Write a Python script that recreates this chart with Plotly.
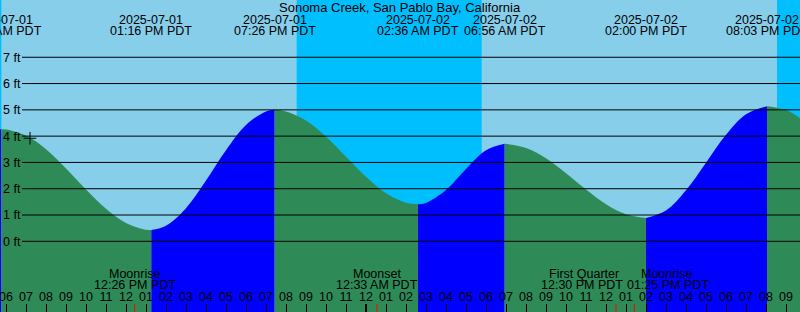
import plotly.graph_objects as go
import pandas as pd

station = "Sonoma Creek, San Pablo Bay, California"

# high / low tide extremes (PDT)
extreme_times = ["2025-07-01 05:46", "2025-07-01 13:16", "2025-07-01 19:26",
                 "2025-07-02 02:36", "2025-07-02 06:56", "2025-07-02 14:00",
                 "2025-07-02 20:03"]
extreme_ft = [4.26, 0.43, 5.00, 1.41, 3.71, 0.89, 5.14]

# hourly tide readings (ft), 2025-07-01 05:00 .. 2025-07-02 22:00
reading_times = pd.date_range("2025-07-01 05:00", "2025-07-02 22:00", freq="h")
reading_ft = [4.16, 4.25, 4.02, 3.50, 2.77, 1.97, 1.24, 0.70, 0.44, 0.59, 1.26, 2.31,
              3.46, 4.42, 4.94, 4.94, 4.59, 3.98, 3.22,
              2.46, 1.83, 1.47, 1.46, 1.95, 2.75, 3.46, 3.71, 3.55, 3.16, 2.59, 1.97,
              1.41, 1.03, 0.89, 1.17, 1.94, 2.99, 4.05, 4.83, 5.14, 4.99, 4.52]

# sun: night intervals
night_start = ["2025-07-01 05:42", "2025-07-01 20:32", "2025-07-02 20:33"]
night_end = ["2025-07-01 05:46", "2025-07-02 05:47", "2025-07-02 21:42"]

# moon events
moon_times = ["2025-07-01 12:26", "2025-07-02 00:33", "2025-07-02 12:30", "2025-07-02 13:25"]
moon_names = ["Moonrise", "Moonset", "First Quarter", "Moonrise"]

grid_ft = [0, 1, 2, 3, 4, 5, 6, 7]
midnights = ["2025-07-02 00:00"]
now_time = ["2025-07-01 07:12"]
now_ft = [3.92]

x_range = ["2025-07-01 05:42", "2025-07-02 21:42"]
y_range = [-2.689, 9.178]
FLOOR = -3.5

DAY = "#87CEEB"
NIGHT = "#00BFFF"
RISE = "#0000FF"
FALL = "#2E8B57"
FS = 12.5
FONT = dict(family="Liberation Sans, Arial, sans-serif", size=FS, color="#000000")
TFONT = dict(family="Liberation Sans, Arial, sans-serif", size=13, color="#000000")

# approximate Arial advance widths (per 1000 em) for label layout
_AW = {":": 278, " ": 278, "P": 667, "M": 833, "A": 667, "D": 722, "T": 611}


def text_width(s, size=FS):
    return sum(_AW.get(c, 556) for c in s) * size / 1000.0


ext_t = pd.to_datetime(extreme_times)
pts = [(t, v) for t, v in zip(reading_times, reading_ft)
       if min(abs((t - e).total_seconds()) for e in ext_t) > 600]
pts += list(zip(ext_t, extreme_ft))
pts.sort()

fig = go.Figure()
bounds = [pd.Timestamp("2025-06-30")] + list(ext_t) + [pd.Timestamp("2025-07-04")]
for i in range(len(bounds) - 1):
    seg = [(t, v) for t, v in pts if bounds[i] <= t <= bounds[i + 1]]
    if len(seg) < 2:
        continue
    xs = [t for t, _ in seg]
    ys = [v for _, v in seg]
    color = RISE if ys[-1] > ys[0] else FALL
    fig.add_trace(go.Scatter(x=[xs[0], xs[-1]], y=[FLOOR, FLOOR], mode="lines",
                             line=dict(width=0), hoverinfo="skip", showlegend=False))
    fig.add_trace(go.Scatter(x=xs, y=ys, mode="lines",
                             line=dict(width=0, shape="spline", color=color),
                             fill="tonexty", fillcolor=color,
                             hoverinfo="skip", showlegend=False))

fig.add_trace(go.Scatter(x=now_time, y=now_ft, mode="markers",
                         marker=dict(symbol="cross-thin", size=9,
                                     line=dict(width=1, color="#000000")),
                         hoverinfo="skip", showlegend=False))

shapes = []
for a, b in zip(night_start, night_end):
    shapes.append(dict(type="rect", xref="x", yref="paper", x0=a, x1=b, y0=0, y1=1,
                       fillcolor=NIGHT, line=dict(width=0), layer="below"))
for v in grid_ft:
    shapes.append(dict(type="line", xref="paper", yref="y", x0=0.0275, x1=1, y0=v, y1=v,
                       line=dict(color="#000000", width=1), layer="above"))
for m in midnights:
    shapes.append(dict(type="line", xref="x", yref="paper", x0=m, x1=m, y0=0, y1=8 / 312,
                       line=dict(color="#000000", width=2), layer="above"))
for m in moon_times:
    shapes.append(dict(type="line", xref="x", yref="paper", x0=m, x1=m, y0=0, y1=8 / 312,
                       line=dict(color="#FF0000", width=1), layer="above"))

ann = [dict(text=station, xref="paper", yref="paper", x=0.5, y=1 - 7.5 / 312,
            xanchor="center", yanchor="middle", showarrow=False, font=TFONT)]
for t in ext_t:
    ann.append(dict(text=t.strftime("%Y-%m-%d"), xref="x", yref="paper", x=t,
                    y=1 - 19.5 / 312, xanchor="center", yanchor="middle",
                    showarrow=False, font=FONT))
    ann.append(dict(text=t.strftime("%I:%M %p PDT"), xref="x", yref="paper", x=t,
                    y=1 - 31.3 / 312, xanchor="center", yanchor="middle",
                    showarrow=False, font=FONT))

# moon labels: labels of close events are pushed apart around their midpoint
mt = list(pd.to_datetime(moon_times))
CLOSE = pd.Timedelta(minutes=150)
for i, (t, n) in enumerate(zip(mt, moon_names)):
    line2 = t.strftime("%I:%M %p PDT")
    w2 = text_width(line2)
    x, anchor, shift = t, "center", 0
    if i + 1 < len(mt) and mt[i + 1] - t < CLOSE:
        x, anchor, shift = t + (mt[i + 1] - t) / 2, "right", -w2 / 2
    elif i > 0 and t - mt[i - 1] < CLOSE:
        x, anchor, shift = mt[i - 1] + (t - mt[i - 1]) / 2, "left", w2 / 2
    ann.append(dict(text=n, xref="x", yref="paper", x=x, y=1 - 273.5 / 312,
                    xanchor="center", xshift=shift, yanchor="middle",
                    showarrow=False, font=FONT))
    ann.append(dict(text=line2, xref="x", yref="paper", x=x, y=1 - 285 / 312,
                    xanchor=anchor, yanchor="middle", showarrow=False, font=FONT))

fig.update_layout(
    width=800, height=312, margin=dict(l=0, r=0, t=0, b=0),
    paper_bgcolor=DAY, plot_bgcolor="rgba(0,0,0,0)",
    shapes=shapes, annotations=ann, showlegend=False, font=FONT,
    xaxis=dict(type="date", range=x_range, showgrid=False, zeroline=False, showline=False,
               ticks="inside", ticklen=8, tickwidth=1, tickcolor="#000000",
               dtick=3600000, tick0="2025-07-01 00:00", tickformat="%I",
               ticklabelposition="inside", ticklabeloverflow="allow",
               tickfont=FONT, layer="above traces", fixedrange=True),
    yaxis=dict(range=y_range, showgrid=False, zeroline=False, showline=False,
               tickvals=grid_ft, ticktext=[f"{v} ft" for v in grid_ft],
               ticks="", ticklabelposition="inside", ticklabeloverflow="allow",
               tickfont=FONT, layer="above traces", fixedrange=True),
)

fig.write_html("out.html")
